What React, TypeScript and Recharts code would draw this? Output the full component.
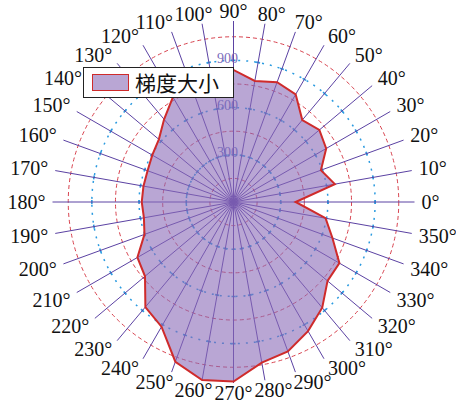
import React from 'react';
import {
  RadarChart,
  Radar,
  PolarGrid,
  PolarAngleAxis,
  PolarRadiusAxis,
  Legend,
} from 'recharts';

// Directions in degrees, counter-clockwise from the positive x axis
const angleDegrees = [
  0, 10, 20, 30, 40, 50, 60, 70, 80,
  90, 100, 110, 120, 130, 140, 150, 160, 170,
  180, 190, 200, 210, 220, 230, 240, 250, 260,
  270, 280, 290, 300, 310, 320, 330, 340, 350,
];

// Gradient magnitude per direction
const gradientSize = [
  395, 654, 591, 680, 712, 680, 790, 810, 781,
  839, 826, 795, 770, 686, 619, 596, 581, 581,
  583, 578, 602, 705, 734, 871, 915, 1080, 1149,
  1141, 1036, 1010, 947, 877, 780, 777, 669, 594,
];

const seriesName = '梯度大小';
const radiusTicks = [300, 600, 900];
const dashedRings = [150, 450, 750, 1050];
const radiusMax = 1150;

const data = angleDegrees.map((deg, i) => ({ deg, value: gradientSize[i] }));

const CX = 233.5;
const CY = 202;
const OUTER = 181;
const ringPx = (v: number) => (v / radiusMax) * OUTER;

// Legend box placement (page pixels)
const LEGEND = { left: 83, top: 67, width: 151, height: 31 };

// Short blue cross marks where the spokes meet the tick rings
const tickMarkDash = (() => {
  const mark = 1.6;
  const parts: number[] = [0];
  let pos = 0;
  radiusTicks.forEach((t) => {
    const r = ringPx(t) - mark / 2;
    parts.push(r - pos, mark);
    pos = r + mark;
  });
  parts.push(1000);
  return parts.join(' ');
})();

const SERIF = 'Liberation Serif';
const clamp1 = (v: number) => Math.max(-1, Math.min(1, v));

// Degree labels: anchored at the spoke end, sliding sideways with the direction,
// and kept clear of the legend box
const AngleTick = (props: any) => {
  const { x, y, payload } = props;
  const label = `${payload.value}°`;
  const theta = (payload.coordinate * Math.PI) / 180;
  const c = Math.cos(theta);
  const s = Math.sin(theta);
  const w = (label.length - 1) * 10 + 8;
  const px = x - 2 * c;
  const py = y + 2 * s;
  let tx = px + (w / 2 + 1) * clamp1(c * 2.2);
  const ty = py - 4 * clamp1(s * 2.5);
  const overlapsLegendRows = ty + 7 > LEGEND.top && ty - 7 < LEGEND.top + LEGEND.height;
  if (overlapsLegendRows && tx < LEGEND.left && tx + w / 2 > LEGEND.left - 1) {
    tx = LEGEND.left - 1 - w / 2;
  }
  return (
    <text
      x={tx}
      y={ty}
      textAnchor="middle"
      dominantBaseline="central"
      fontFamily={SERIF}
      fontSize={20}
      fill="#111"
    >
      {label}
    </text>
  );
};

const RadiusTick = (props: any) => {
  const { x, y, payload } = props;
  if (!radiusTicks.includes(payload.value)) return <g />;
  return (
    <text
      x={x - 6}
      y={y - 2}
      textAnchor="middle"
      dominantBaseline="central"
      fontFamily={SERIF}
      fontSize={14}
      fill="#7b6bbb"
    >
      {payload.value}
    </text>
  );
};

const LegendBox = (props: any) => {
  const item = props.payload && props.payload[0];
  return (
    <div
      style={{
        boxSizing: 'border-box',
        width: LEGEND.width,
        height: LEGEND.height,
        border: '1px solid #222',
        background: '#fff',
        display: 'flex',
        alignItems: 'center',
        paddingLeft: 8,
      }}
    >
      <span
        style={{
          display: 'inline-block',
          boxSizing: 'border-box',
          width: 37,
          height: 17,
          background: '#b9a6d4',
          border: '1.5px solid #cf2b2b',
        }}
      />
      <span
        style={{
          marginLeft: 6,
          fontFamily: '"Noto Sans CJK SC", sans-serif',
          fontSize: 21,
          lineHeight: '29px',
          color: '#111',
        }}
      >
        {item ? item.value : seriesName}
      </span>
    </div>
  );
};

export default function App() {
  return (
    <div
      style={{
        position: 'absolute',
        left: 0,
        top: 0,
        width: 456,
        height: 410,
        background: '#fff',
        fontFamily: 'Liberation Serif',
      }}
    >
      <RadarChart
        width={456}
        height={410}
        data={data}
        cx={CX}
        cy={CY}
        innerRadius={0}
        outerRadius={OUTER}
        startAngle={0}
        endAngle={360}
        margin={{ top: 0, right: 0, bottom: 0, left: 0 }}
      >
        <PolarGrid
          gridType="circle"
          radialLines={false}
          polarRadius={dashedRings.map(ringPx)}
          stroke="#d8434f"
          strokeDasharray="4 3"
          strokeWidth={1}
        />
        <PolarGrid
          gridType="circle"
          radialLines={false}
          polarRadius={radiusTicks.map(ringPx)}
          stroke="#2b9be0"
          strokeDasharray="2 6"
          strokeWidth={1.5}
        />
        <PolarGrid
          gridType="circle"
          polarRadius={[0]}
          stroke="#2b9be0"
          strokeWidth={4}
          strokeDasharray={tickMarkDash}
        />
        <PolarGrid gridType="circle" polarRadius={[0]} stroke="#5b42a3" strokeWidth={1} />
        <PolarAngleAxis
          dataKey="deg"
          type="number"
          domain={[0, 360]}
          ticks={angleDegrees as any}
          axisLine={false}
          tickLine={false}
          tick={AngleTick}
        />
        <PolarRadiusAxis
          angle={90}
          type="number"
          domain={[0, radiusMax]}
          ticks={radiusTicks as any}
          axisLine={false}
          tickLine={false}
          tick={RadiusTick}
        />
        <Radar
          name={seriesName}
          dataKey="value"
          stroke="#cf2b2b"
          strokeWidth={2}
          fill="#8a6ab8"
          fillOpacity={0.6}
          dot={false}
          isAnimationActive={false}
        />
        <Legend
          layout="horizontal"
          verticalAlign="middle"
          align="center"
          content={LegendBox}
          wrapperStyle={{ left: LEGEND.left, top: LEGEND.top, width: 'auto', height: 'auto' }}
        />
      </RadarChart>
    </div>
  );
}
